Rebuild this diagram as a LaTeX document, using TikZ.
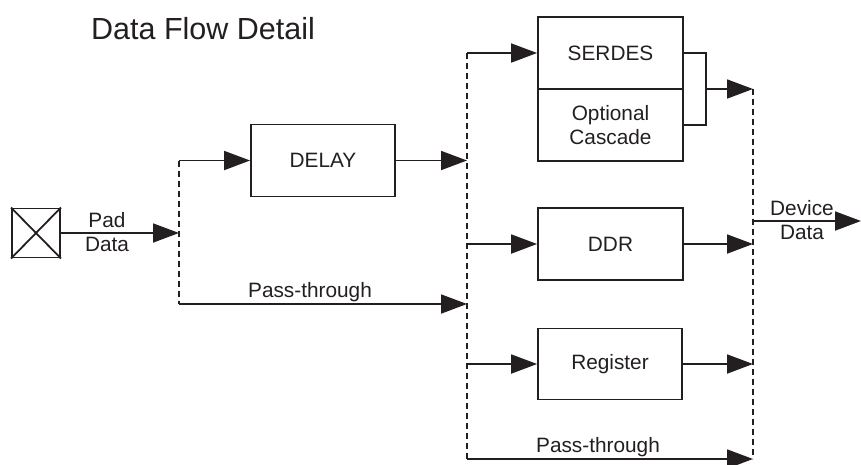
\documentclass[tikz,border=0pt]{standalone}
\usepackage{fontspec}
\setmainfont{Liberation Sans}
\usetikzlibrary{arrows.meta}
\definecolor{ink}{HTML}{231F20}
\tikzset{
  blk/.style={draw=ink, line width=1.8pt, rectangle, inner sep=0pt, minimum width=145pt, minimum height=72pt, font=\fontsize{20.8}{24}\selectfont, text=ink, align=center},
  wire/.style={draw=ink, line width=1.8pt},
  arr/.style={wire, -{Triangle[length=26pt,width=19pt]}, shorten >=0pt},
  bus/.style={draw=ink, line width=1.8pt, dash pattern=on 6pt off 4pt},
  lbl/.style={font=\fontsize{20.8}{24}\selectfont, text=ink, align=center, inner sep=0pt},
}
\begin{document}
\begin{tikzpicture}[x=1pt,y=-1pt]
\useasboundingbox (0,0) rectangle (861,464);
% title
\node[anchor=base west, inner sep=0pt, font=\fontsize{30.5}{34}\selectfont, text=ink] (title) at (91,39) {Data Flow Detail};
% pad
\node[draw=ink, line width=1.8pt, minimum width=48pt, minimum height=49pt, inner sep=0pt] (pad) at (36,233) {};
\draw[wire] (pad.north west) -- (pad.south east);
\draw[wire] (pad.north east) -- (pad.south west);
% blocks
\node[blk, minimum width=144pt] (delay) at (323,160.5) {DELAY};
\node[blk] (serdes) at (610.5,53) {SERDES};
\node[blk] (cascade) at (610.5,125) {Optional\\Cascade};
\node[blk] (ddr) at (610.5,244) {DDR};
\node[blk, minimum width=144pt, minimum height=71pt] (reg) at (610,364) {Register};
% bus coordinates
\coordinate (b1t) at (179,160.5);
\coordinate (b1b) at (179,304);
\coordinate (b2t) at (467,53);
\coordinate (b2p) at (467,304);
\coordinate (b2b) at (467,459);
\coordinate (b3t) at (753,89);
\coordinate (b3b) at (753,459);
\coordinate (brt) at (706,53);
\coordinate (brm) at (706,89);
\coordinate (brb) at (706,125);
\coordinate (out) at (861,221);
\coordinate (b3o) at (753,221);
% dashed buses
\draw[bus] (b1t) -- (b1b);
\draw[bus] (b2t) -- (b2b);
\draw[bus] (b3t) -- (b3b);
% connectors
\draw[arr] (pad.east) -- (pad.east -| b1t);
\node[lbl] (padlbl) at (107,232) {Pad\\Data};
\draw[arr] (b1t) -- (delay.west);
\draw[arr] (b1b) -- (b2p);
\node[lbl, anchor=base] (pt1) at (310,297) {Pass-through};
\draw[arr] (delay.east) -- (delay.east -| b2t);
\draw[arr] (b2t) -- (serdes.west);
\draw[arr] (ddr.west -| b2t) -- (ddr.west);
\draw[arr] (reg.west -| b2t) -- (reg.west);
\draw[arr] (b2b) -- (b3b);
\node[lbl, anchor=base] (pt2) at (598,452) {Pass-through};
\draw[wire] (serdes.east) -- (brt) -- (brb) -- (cascade.east);
\draw[arr] (brm) -- (b3t);
\draw[arr] (ddr.east) -- (ddr.east -| b3t);
\draw[arr] (reg.east) -- (reg.east -| b3t);
\draw[arr] (b3o) -- (out);
\node[lbl] (devlbl) at (802,220) {Device\\Data};
\end{tikzpicture}
\end{document}
